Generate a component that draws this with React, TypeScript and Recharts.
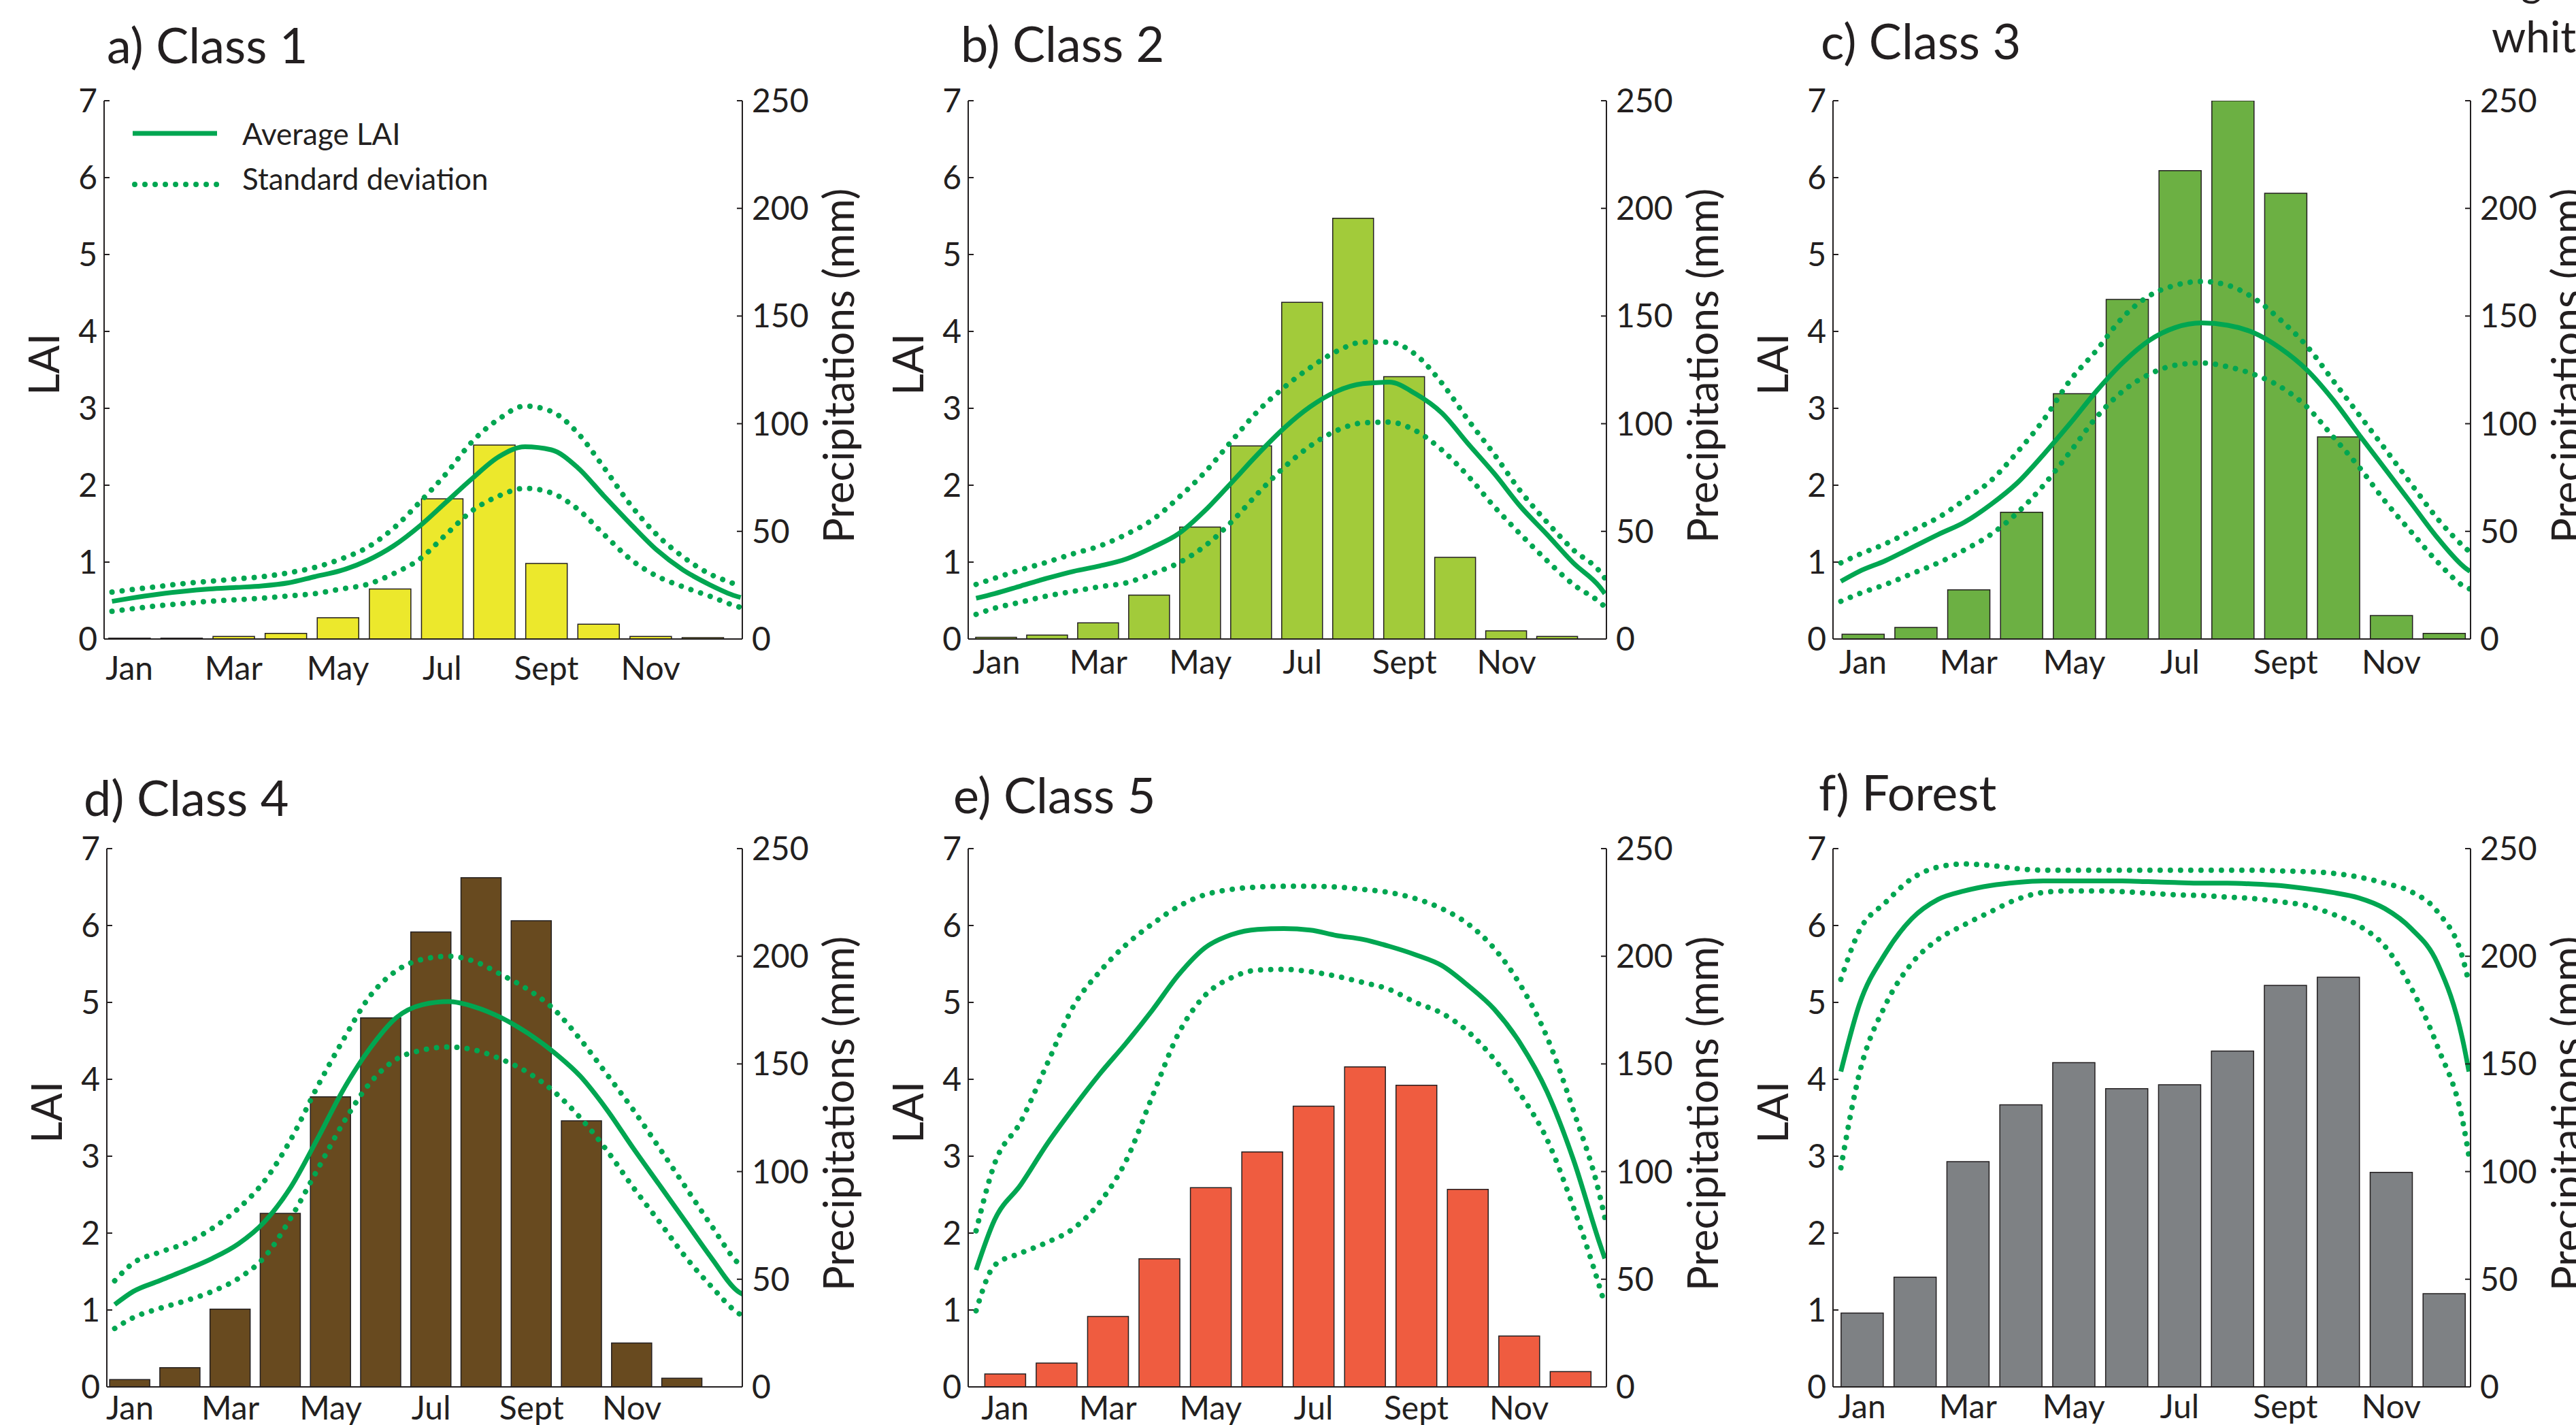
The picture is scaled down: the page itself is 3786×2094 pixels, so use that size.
import React from 'react';
import { Bar, ComposedChart, Line, XAxis, YAxis } from 'recharts';

// LAI seasonal curves (green, left axis) over monthly precipitation bars (right axis).

const INK = '#231F20';
const GREEN = '#00A651';
const FONT = 'Lato, "Open Sans", sans-serif';

const MONTHS = [1, 2, 3, 4, 5, 6, 7, 8, 9, 10, 11, 12];
const MONTH_EDGES = [0, 1, 2, 3, 4, 5, 6, 7, 8, 9, 10, 11, 12];
const LABEL_TICKS = [1, 3, 5, 7, 9, 11];
const LABELS = ['Jan', 'Mar', 'May', 'Jul', 'Sept', 'Nov'];
const LAI_TICKS = [0, 1, 2, 3, 4, 5, 6, 7];
const MM_TICKS = [0, 50, 100, 150, 200, 250];

// sample positions (months from the start of Jan) of the LAI curves
const T = [0.15, 0.5, 1, 1.5, 2, 2.5, 3, 3.5, 4, 4.5, 5, 5.5, 6, 6.5, 7, 7.5, 8, 8.5, 9, 9.5, 10, 10.5, 11, 11.5, 12, 12.1];

const PRECIP_A = [0.4, 0.4, 1.2, 2.6, 9.9, 23.2, 65.1, 90.1, 35.1, 6.9, 1.2, 0.6];
const AVG_A = [0.49, 0.53, 0.58, 0.62, 0.65, 0.67, 0.69, 0.73, 0.81, 0.89, 1.02, 1.21, 1.47, 1.78, 2.09, 2.37, 2.5, 2.46, 2.23, 1.86, 1.5, 1.16, 0.9, 0.71, 0.56, 0.54];
const UP_A = [0.61, 0.64, 0.68, 0.72, 0.75, 0.78, 0.81, 0.86, 0.93, 1.04, 1.19, 1.44, 1.78, 2.15, 2.57, 2.86, 3.03, 2.96, 2.68, 2.23, 1.75, 1.36, 1.07, 0.85, 0.71, 0.68];
const LO_A = [0.36, 0.39, 0.43, 0.46, 0.49, 0.51, 0.53, 0.56, 0.59, 0.65, 0.71, 0.85, 1.04, 1.36, 1.67, 1.86, 1.96, 1.9, 1.69, 1.36, 1.04, 0.82, 0.68, 0.56, 0.43, 0.41];

const PRECIP_B = [0.8, 1.8, 7.5, 20.4, 52.0, 89.7, 156.4, 195.4, 121.8, 37.9, 3.8, 1.2];
const AVG_B = [0.53, 0.59, 0.69, 0.79, 0.88, 0.95, 1.04, 1.19, 1.37, 1.67, 2.03, 2.4, 2.74, 3.02, 3.22, 3.32, 3.34, 3.19, 2.94, 2.54, 2.15, 1.72, 1.36, 0.99, 0.68, 0.59];
const UP_B = [0.71, 0.79, 0.9, 1.0, 1.11, 1.21, 1.36, 1.55, 1.84, 2.17, 2.57, 2.96, 3.27, 3.53, 3.74, 3.86, 3.86, 3.7, 3.33, 2.85, 2.4, 1.92, 1.52, 1.16, 0.88, 0.79];
const LO_B = [0.32, 0.4, 0.48, 0.56, 0.62, 0.68, 0.73, 0.85, 0.99, 1.21, 1.52, 1.89, 2.23, 2.51, 2.71, 2.81, 2.82, 2.71, 2.46, 2.12, 1.72, 1.36, 1.02, 0.71, 0.48, 0.42];

const PRECIP_C = [2.2, 5.4, 22.8, 58.9, 113.9, 157.7, 217.5, 250, 207.0, 93.9, 10.9, 2.6];
const AVG_C = [0.75, 0.88, 1.02, 1.19, 1.36, 1.52, 1.75, 2.03, 2.4, 2.8, 3.22, 3.59, 3.88, 4.05, 4.11, 4.08, 3.98, 3.78, 3.5, 3.11, 2.65, 2.2, 1.75, 1.3, 0.93, 0.88];
const UP_C = [0.99, 1.1, 1.24, 1.41, 1.58, 1.81, 2.06, 2.43, 2.85, 3.36, 3.75, 4.18, 4.46, 4.6, 4.65, 4.6, 4.43, 4.15, 3.81, 3.36, 2.91, 2.46, 2.0, 1.55, 1.19, 1.13];
const LO_C = [0.49, 0.59, 0.71, 0.85, 0.99, 1.16, 1.36, 1.64, 2.0, 2.43, 2.88, 3.22, 3.44, 3.56, 3.59, 3.54, 3.44, 3.28, 3.02, 2.63, 2.23, 1.78, 1.38, 0.99, 0.68, 0.65];

const PRECIP_D = [3.4, 8.9, 36.1, 80.6, 134.7, 171.4, 211.3, 236.5, 216.5, 123.6, 20.4, 4.0];
const AVG_D = [1.07, 1.24, 1.38, 1.52, 1.67, 1.86, 2.15, 2.6, 3.22, 3.87, 4.4, 4.8, 4.97, 5.01, 4.94, 4.8, 4.6, 4.35, 4.04, 3.61, 3.11, 2.63, 2.15, 1.67, 1.24, 1.2];
const UP_D = [1.38, 1.61, 1.75, 1.87, 2.06, 2.32, 2.68, 3.22, 3.9, 4.52, 5.08, 5.41, 5.56, 5.6, 5.53, 5.36, 5.17, 4.91, 4.52, 4.07, 3.61, 3.11, 2.6, 2.09, 1.61, 1.55];
const LO_D = [0.76, 0.9, 1.02, 1.12, 1.24, 1.41, 1.69, 2.2, 2.82, 3.44, 3.95, 4.26, 4.38, 4.42, 4.38, 4.26, 4.09, 3.84, 3.5, 3.08, 2.6, 2.15, 1.69, 1.3, 0.96, 0.92];

const PRECIP_E = [6.0, 11.1, 32.7, 59.5, 92.5, 109.1, 130.4, 148.6, 140.1, 91.7, 23.6, 7.1];
const AVG_E = [1.52, 2.17, 2.63, 3.16, 3.63, 4.07, 4.47, 4.9, 5.36, 5.71, 5.88, 5.95, 5.96, 5.94, 5.87, 5.82, 5.73, 5.62, 5.48, 5.22, 4.91, 4.46, 3.84, 2.96, 1.87, 1.67];
const UP_E = [2.03, 2.9, 3.45, 4.2, 4.95, 5.4, 5.75, 6.02, 6.25, 6.4, 6.47, 6.5, 6.51, 6.51, 6.5, 6.47, 6.43, 6.35, 6.22, 6.02, 5.7, 5.22, 4.55, 3.6, 2.5, 2.2];
const LO_E = [0.99, 1.58, 1.74, 1.88, 2.06, 2.4, 2.94, 3.78, 4.6, 5.09, 5.32, 5.42, 5.43, 5.4, 5.34, 5.26, 5.17, 5.0, 4.86, 4.62, 4.26, 3.8, 3.22, 2.34, 1.3, 1.07];

const PRECIP_F = [34.3, 51.0, 104.6, 131.0, 150.6, 138.5, 140.3, 156.0, 186.5, 190.3, 99.6, 43.3];
const AVG_F = [4.1, 4.97, 5.64, 6.09, 6.34, 6.45, 6.52, 6.56, 6.58, 6.58, 6.58, 6.58, 6.57, 6.56, 6.55, 6.55, 6.54, 6.52, 6.48, 6.43, 6.36, 6.22, 5.96, 5.51, 4.45, 4.1];
const UP_F = [5.3, 5.93, 6.3, 6.61, 6.76, 6.8, 6.78, 6.74, 6.72, 6.72, 6.72, 6.72, 6.72, 6.72, 6.72, 6.72, 6.72, 6.71, 6.7, 6.68, 6.63, 6.55, 6.44, 6.18, 5.53, 5.25];
const LO_F = [2.85, 4.07, 4.97, 5.51, 5.82, 6.01, 6.18, 6.34, 6.43, 6.45, 6.45, 6.44, 6.42, 6.4, 6.39, 6.37, 6.35, 6.31, 6.26, 6.15, 6.0, 5.73, 5.19, 4.43, 3.39, 3.0];

// chart padding around each plot box
const LPAD = 100;
const RPAD = 120;
const TPAD = 40;
const BPAD = 90;
const TICK = 8;
const DOTS = '0.01 15';

const PANELS = [
  { title: 'a) Class 1', color: '#ECE82C', precip: PRECIP_A, avg: AVG_A, up: UP_A, lo: LO_A, left: 153, top: 148, w: 938, h: 791, xMax: 12.13, barDomain: [0.515, 12.76], barSize: 61, titleX: 157, titleY: 93, labelDy: 60, legend: true },
  { title: 'b) Class 2', color: '#A2CB3A', precip: PRECIP_B, avg: AVG_B, up: UP_B, lo: LO_B, left: 1423, top: 148, w: 938, h: 791, xMax: 12.13, barDomain: [0.447, 12.96], barSize: 60, titleX: 1412, titleY: 91, labelDy: 51 },
  { title: 'c) Class 3', color: '#6CB043', precip: PRECIP_C, avg: AVG_C, up: UP_C, lo: LO_C, left: 2694, top: 148, w: 937, h: 791, xMax: 12.11, barDomain: [0.432, 12.5], barSize: 62, titleX: 2676, titleY: 87, labelDy: 51 },
  { title: 'd) Class 4', color: '#684A1F', precip: PRECIP_D, avg: AVG_D, up: UP_D, lo: LO_D, left: 157, top: 1247, w: 934, h: 791, xMax: 12.08, barDomain: [0.539, 13.2], barSize: 59, titleX: 123, titleY: 1199, labelDy: 48 },
  { title: 'e) Class 5', color: '#EF5C40', precip: PRECIP_E, avg: AVG_E, up: UP_E, lo: LO_E, left: 1423, top: 1247, w: 938, h: 791, xMax: 12.13, barDomain: [0.283, 12.7], barSize: 60, titleX: 1401, titleY: 1195, labelDy: 48 },
  { title: 'f) Forest', color: '#7E8184', precip: PRECIP_F, avg: AVG_F, up: UP_F, lo: LO_F, left: 2694, top: 1247, w: 937, h: 791, xMax: 12.13, barDomain: [0.45, 12.5], barSize: 62, titleX: 2673, titleY: 1191, labelDy: 46 },
];

type Cfg = (typeof PANELS)[number];

const axisLine = { stroke: INK, strokeWidth: 2 };

function Panel({ cfg }: { cfg: Cfg }) {
  const W = LPAD + cfg.w + RPAD;
  const H = TPAD + cfg.h + BPAD;
  const L = LPAD;
  const R = LPAD + cfg.w;
  const T0 = TPAD;
  const B0 = TPAD + cfg.h;

  const bars = MONTHS.map((k, i) => ({ k, p: cfg.precip[i] }));
  const curves = T.map((t, i) => ({ t, avg: cfg.avg[i], up: cfg.up[i], lo: cfg.lo[i] }));

  const edgeTick = (p: any) => (
    <g>
      <line x1={p.x} x2={p.x} y1={T0} y2={T0 + TICK} stroke={INK} strokeWidth={2} />
      <line x1={p.x} x2={p.x} y1={B0 - TICK} y2={B0} stroke={INK} strokeWidth={2} />
    </g>
  );
  const monthTick = (p: any) => (
    <text x={p.x} y={B0 + cfg.labelDy} textAnchor="middle" fontSize={48} fontFamily={FONT} fill={INK}>
      {LABELS[LABEL_TICKS.indexOf(p.payload.value)]}
    </text>
  );
  const laiTick = (p: any) => (
    <g>
      <line x1={L} x2={L + TICK} y1={p.y} y2={p.y} stroke={INK} strokeWidth={2} />
      <text x={L - 10} y={p.y} dy={17} textAnchor="end" fontSize={48} fontFamily={FONT} fill={INK}>
        {p.payload.value}
      </text>
    </g>
  );
  const mmTick = (p: any) => (
    <g>
      <line x1={R - TICK} x2={R} y1={p.y} y2={p.y} stroke={INK} strokeWidth={2} />
      <text x={R + 14} y={p.y} dy={17} textAnchor="start" fontSize={48} fontFamily={FONT} fill={INK}>
        {p.payload.value}
      </text>
    </g>
  );

  return (
    <div style={{ position: 'absolute', left: cfg.left - LPAD, top: cfg.top - TPAD }}>
      <ComposedChart width={W} height={H} data={bars} margin={{ top: TPAD, right: 0, bottom: 0, left: 0 }}>
        <XAxis xAxisId="t" orientation="top" type="number" dataKey="t" domain={[0, cfg.xMax]} ticks={MONTH_EDGES}
          height={0} interval={0} allowDataOverflow axisLine={axisLine} tickLine={false} tick={edgeTick} />
        <XAxis xAxisId="m" orientation="bottom" type="number" dataKey="k" domain={cfg.barDomain} ticks={LABEL_TICKS}
          height={BPAD} interval={0} allowDataOverflow axisLine={axisLine} tickLine={false} tick={monthTick} />
        <YAxis yAxisId="lai" orientation="left" width={LPAD} domain={[0, 7]} ticks={LAI_TICKS} interval={0}
          allowDataOverflow axisLine={axisLine} tickLine={false} tick={laiTick} />
        <YAxis yAxisId="mm" orientation="right" width={RPAD} domain={[0, 250]} ticks={MM_TICKS} interval={0}
          allowDataOverflow axisLine={axisLine} tickLine={false} tick={mmTick} />
        <Bar xAxisId="m" yAxisId="mm" dataKey="p" barSize={cfg.barSize} fill={cfg.color} stroke={INK}
          strokeWidth={1.5} isAnimationActive={false} />
        <Line xAxisId="t" yAxisId="lai" data={curves} dataKey="up" type="monotone" stroke={GREEN} strokeWidth={8}
          strokeDasharray={DOTS} strokeLinecap="round" dot={false} activeDot={false} isAnimationActive={false} />
        <Line xAxisId="t" yAxisId="lai" data={curves} dataKey="lo" type="monotone" stroke={GREEN} strokeWidth={8}
          strokeDasharray={DOTS} strokeLinecap="round" dot={false} activeDot={false} isAnimationActive={false} />
        <Line xAxisId="t" yAxisId="lai" data={curves} dataKey="avg" type="monotone" stroke={GREEN} strokeWidth={7}
          dot={false} activeDot={false} isAnimationActive={false} />
      </ComposedChart>
    </div>
  );
}

function Overlay() {
  return (
    <svg width={3786} height={2094} style={{ position: 'absolute', left: 0, top: 0, pointerEvents: 'none' }}>
      {PANELS.map((c) => {
        const cy = c.top + c.h / 2;
        return (
          <g key={c.title} fontFamily={FONT} fill={INK}>
            <text x={c.titleX} y={c.titleY} fontSize={72}>{c.title}</text>
            <text transform={`translate(${c.left - 88},${cy - 8}) rotate(-90)`} textAnchor="middle" dy="0.36em" fontSize={62}>LAI</text>
            <text transform={`translate(${c.left + c.w + 142},${cy - 6}) rotate(-90)`} textAnchor="middle" dy="0.36em" fontSize={62}>
              Precipitations (mm)
            </text>
            {c.legend ? (
              <g>
                <line x1={195} x2={319} y1={196} y2={196} stroke={GREEN} strokeWidth={7} />
                <line x1={198} x2={322} y1={271} y2={271} stroke={GREEN} strokeWidth={8} strokeDasharray={DOTS} strokeLinecap="round" />
                <text x={356} y={213} fontSize={44}>Average LAI</text>
                <text x={356} y={279} fontSize={44}>Standard deviation</text>
              </g>
            ) : null}
          </g>
        );
      })}
      <text x={3705} y={-5} fontSize={60} fontFamily={FONT} fill={INK}>g</text>
      <text x={3662} y={77} fontSize={64} fontFamily={FONT} fill={INK}>white</text>
    </svg>
  );
}

export default function App() {
  return (
    <div style={{ position: 'absolute', left: 0, top: 0, width: 3786, height: 2094, background: '#fff', overflow: 'hidden' }}>
      {PANELS.map((c) => (
        <Panel key={c.title} cfg={c} />
      ))}
      <Overlay />
    </div>
  );
}
